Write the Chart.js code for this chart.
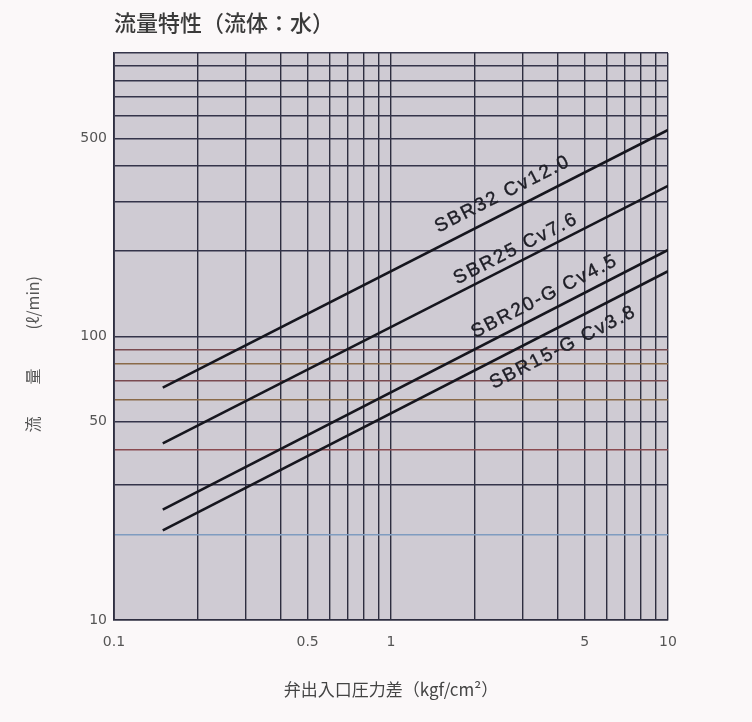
<!DOCTYPE html>
<html>
<head>
<meta charset="utf-8">
<script src="https://cdn.jsdelivr.net/npm/chart.js@4"></script>
<style>
  body { margin: 0; background: #fbf8f9; }
  #grafico { width: 752px; height: 722px; }
</style>
</head>
<body>
<div id="grafico"><canvas id="graficoCaudal" width="752" height="722"></canvas></div>
<script>
// Datos (escala log-log)
const presion = [0.15, 10];
const caudalSBR32 = [66, 535];
const caudalSBR25 = [42, 340];
const caudalSBR20 = [24.5, 202];
const caudalSBR15 = [20.7, 170];
const nombresSeries = ['SBR32 Cv12.0', 'SBR25 Cv7.6', 'SBR20-G Cv4.5', 'SBR15-G Cv3.8'];

// Marcas de los ejes
const ticksX = [0.1, 0.2, 0.3, 0.4, 0.5, 0.6, 0.7, 0.8, 0.9, 1, 2, 3, 4, 5, 6, 7, 8, 9, 10];
const ticksY = [10, 20, 30, 40, 50, 60, 70, 80, 90, 100, 200, 300, 400, 500, 600, 700, 800, 900, 1000];
const etiquetasX = ['0.1', '0.5', '1', '5', '10'];
const etiquetasY = ['10', '50', '100', '500'];

const caudales = [caudalSBR32, caudalSBR25, caudalSBR20, caudalSBR15];

//Posición de cada rótulo sobre su recta (valor x y desplazamiento perpendicular en px).
const rotulos = [
    { x: 2.71, off: -18 },
    { x: 2.97, off: -13 },
    { x: 3.8, off: -15 },
    { x: 3.88, off: 20 }
];

//Tono de cada línea horizontal de la cuadrícula (imitando la impresión).
function colorLineaY(v) {
    if (v === 20) return '#7f9cc0';
    if (v === 40) return '#8a4a50';
    if (v === 60 || v === 80) return '#8a6a48';
    if (v === 70 || v === 90) return '#7a4a50';
    return '#34344a';
}

const rotulosPlugin = {
    id: 'rotulos',
    afterDatasetsDraw(chart) {
        const ctx = chart.ctx;
        const sx = chart.scales.x;
        const sy = chart.scales.y;
        ctx.save();
        ctx.font = '19px "Liberation Sans", Arial, sans-serif';
        ctx.letterSpacing = '2px';
        ctx.fillStyle = '#1e1e26';
        ctx.strokeStyle = '#1e1e26';
        ctx.lineWidth = 0.4;
        ctx.textAlign = 'center';
        ctx.textBaseline = 'middle';
        caudales.forEach((serie, i) => {
            const x0 = sx.getPixelForValue(presion[0]);
            const y0 = sy.getPixelForValue(serie[0]);
            const x1 = sx.getPixelForValue(presion[1]);
            const y1 = sy.getPixelForValue(serie[1]);
            const ang = Math.atan2(y1 - y0, x1 - x0);
            const px = sx.getPixelForValue(rotulos[i].x);
            const py = y0 + (px - x0) * (y1 - y0) / (x1 - x0);
            const nx = -Math.sin(ang) * rotulos[i].off;
            const ny = Math.cos(ang) * rotulos[i].off;
            ctx.save();
            ctx.translate(px + nx, py + ny);
            ctx.rotate(ang);
            ctx.fillText(nombresSeries[i], 0, 0);
            ctx.strokeText(nombresSeries[i], 0, 0);
            ctx.restore();
        });
        ctx.restore();
    }
};

const fondoPlugin = {
    id: 'fondo',
    beforeDraw(chart) {
        const { ctx, chartArea: a } = chart;
        ctx.save();
        ctx.fillStyle = '#fbf8f9';
        ctx.fillRect(0, 0, chart.width, chart.height);
        ctx.fillStyle = '#cfcbd3';
        ctx.fillRect(a.left, a.top, a.right - a.left, a.bottom - a.top);
        ctx.restore();
    }
};

const ctx = document.querySelector('#graficoCaudal').getContext('2d');
const myChart = new Chart(ctx, {
    type: 'scatter',
    data: {
        datasets: caudales.map((serie, i) => ({
            label: nombresSeries[i],
            data: serie.map((v, j) => ({ x: presion[j], y: v })),
            showLine: true,
            borderColor: '#16161e',
            borderWidth: 2.6,
            pointRadius: 0
        }))
    },
    options: {
        responsive: false,
        animation: false,
        layout: { padding: { left: 0, right: 84, top: 9, bottom: 0 } },
        plugins: {
            legend: { display: false },
            tooltip: { enabled: false },
            title: {
                display: true,
                text: '流量特性（流体：水）',
                align: 'start',
                fullSize: false,
                color: '#3a3a3a',
                font: { family: '"Noto Sans CJK JP"', size: 22, weight: '500' },
                padding: { top: 0, bottom: 17.6 }
            }
        },
        scales: {
            x: {
                type: 'logarithmic',
                min: 0.1,
                max: 10,
                afterBuildTicks: s => { s.ticks = ticksX.map(v => ({ value: v })); },
                afterFit: s => { s.height = 102; },
                grid: { color: '#2e2e40', lineWidth: 1.4, drawTicks: false },
                border: { color: '#2e2e40', width: 1.6 },
                ticks: {
                    autoSkip: false,
                    maxRotation: 0,
                    padding: 14,
                    color: '#555',
                    font: { family: '"DejaVu Sans"', size: 14 },
                    callback: v => etiquetasX.includes(String(v)) ? String(v) : ''
                },
                title: {
                    display: true,
                    text: '弁出入口圧力差（kgf/cm²）',
                    color: '#444',
                    font: { family: '"Noto Sans CJK JP"', size: 17 },
                    padding: { top: 0, bottom: 22 }
                }
            },
            y: {
                type: 'logarithmic',
                min: 10,
                max: 1000,
                afterBuildTicks: s => { s.ticks = ticksY.map(v => ({ value: v })); },
                afterFit: s => { s.width = 114; },
                grid: { color: c => colorLineaY(c.tick ? c.tick.value : 0), lineWidth: 1.4, drawTicks: false },
                border: { color: '#2e2e40', width: 1.8 },
                ticks: {
                    autoSkip: false,
                    padding: 7,
                    color: '#555',
                    font: { family: '"DejaVu Sans"', size: 14 },
                    callback: v => etiquetasY.includes(String(v)) ? String(v) : ''
                },
                title: {
                    display: true,
                    text: '流　　量　　  (ℓ/min)　　 ',
                    color: '#555',
                    font: { family: '"Noto Sans CJK JP"', size: 16 },
                    padding: { top: 23, bottom: 0 }
                }
            }
        }
    },
    plugins: [fondoPlugin, rotulosPlugin]
});
</script>
</body>
</html>
